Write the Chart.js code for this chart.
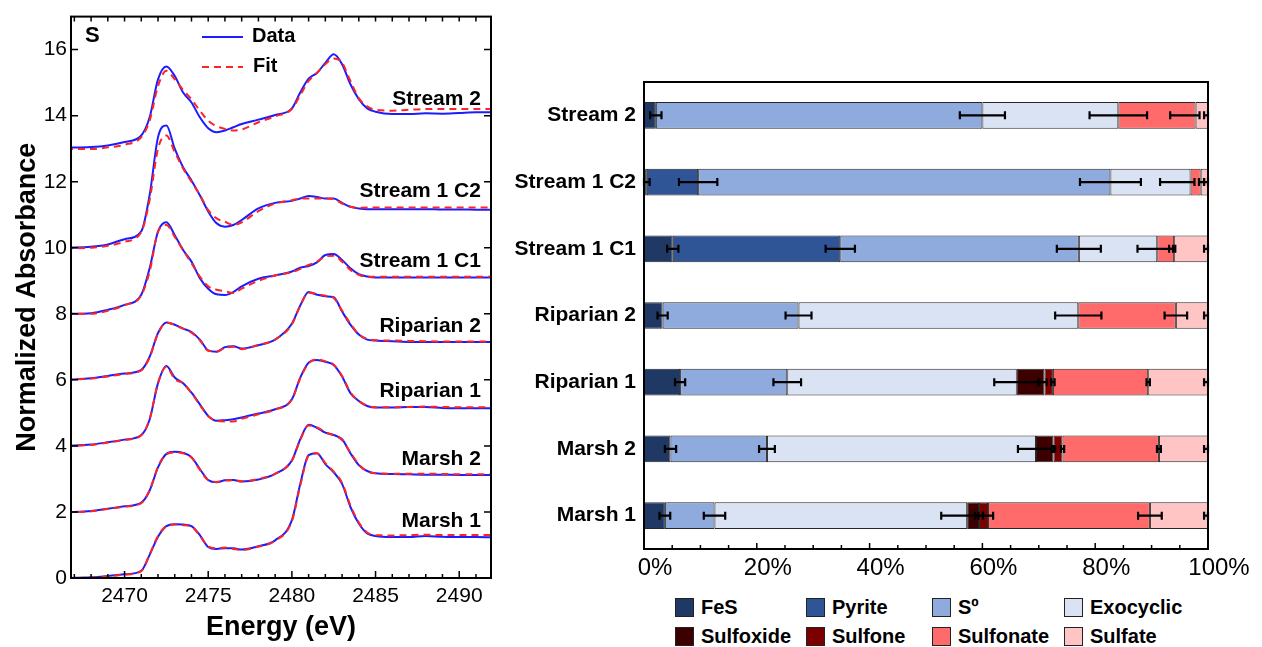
<!DOCTYPE html>
<html>
<head>
<meta charset="utf-8">
<script src="https://cdn.jsdelivr.net/npm/chart.js@4.4.1/dist/chart.umd.min.js"></script>
<style>
  html, body { margin: 0; padding: 0; background: #fff; }
  body { width: 1262px; height: 647px; position: relative; overflow: hidden;
         font-family: "Liberation Sans", Arial, sans-serif; }
  #specBox { position: absolute; left: 0; top: 0; width: 500px; height: 647px; }
  #barBox { position: absolute; left: 500px; top: 0; width: 762px; height: 592px; }
  .leg { position: absolute; height: 20px; line-height: 20px; display: flex; align-items: center;
         font-weight: bold; font-size: 20px; color: #000; white-space: nowrap; }
  .leg i { display: inline-block; width: 17px; height: 17px; border: 1px solid #222; margin-right: 7px; }
</style>
</head>
<body>
<div id="specBox"><canvas id="spec"></canvas></div>
<div id="barBox"><canvas id="bars"></canvas></div>
<div id="legend"></div>
<script>
// ---- XANES spectra (left panel) ----
const energy = [2466.5, 2468, 2469, 2470, 2471, 2471.5, 2472, 2472.5, 2473, 2473.5, 2474, 2474.5,
  2475, 2475.5, 2476, 2476.5, 2477, 2478, 2479, 2480, 2480.5, 2481, 2481.5, 2482, 2482.5,
  2483, 2483.5, 2484, 2484.5, 2485, 2486, 2487, 2488, 2489, 2490, 2491, 2492];

const stream2Data = [13.03, 13.05, 13.1, 13.2, 13.4, 13.95, 15.1, 15.49, 15.2, 14.7, 14.4, 13.95,
  13.62, 13.5, 13.55, 13.65, 13.75, 13.88, 14.02, 14.22, 14.7, 15.12, 15.29, 15.6, 15.86,
  15.56, 14.95, 14.5, 14.22, 14.12, 14.05, 14.05, 14.07, 14.06, 14.08, 14.1, 14.1];
const stream2Fit = [12.99, 12.99, 13.04, 13.12, 13.35, 13.85, 14.9, 15.36, 15.1, 14.78, 14.5, 14.15,
  13.85, 13.68, 13.6, 13.55, 13.58, 13.8, 13.98, 14.2, 14.62, 15.05, 15.3, 15.56, 15.73,
  15.6, 15.05, 14.53, 14.28, 14.18, 14.15, 14.18, 14.2, 14.2, 14.2, 14.2, 14.2];

const c2Data = [10.0, 10.03, 10.1, 10.26, 10.5, 11.6, 13.35, 13.7, 13.0, 12.44, 12.04, 11.59,
  11.1, 10.74, 10.64, 10.69, 10.84, 11.19, 11.36, 11.42, 11.49, 11.57, 11.54, 11.49, 11.49,
  11.36, 11.24, 11.19, 11.17, 11.17, 11.17, 11.17, 11.17, 11.16, 11.16, 11.15, 11.15];
const c2Fit = [9.98, 10.0, 10.06, 10.18, 10.48, 11.45, 13.0, 13.4, 12.9, 12.4, 12.0, 11.6,
  11.14, 10.89, 10.79, 10.69, 10.77, 11.11, 11.34, 11.44, 11.49, 11.49, 11.49, 11.49, 11.47,
  11.34, 11.24, 11.21, 11.22, 11.22, 11.22, 11.22, 11.22, 11.22, 11.22, 11.22, 11.22];

const c1Data = [8.0, 8.02, 8.12, 8.27, 8.58, 9.38, 10.49, 10.77, 10.38, 9.93, 9.58, 9.08,
  8.76, 8.59, 8.57, 8.66, 8.83, 9.06, 9.16, 9.28, 9.4, 9.45, 9.56, 9.78, 9.81,
  9.63, 9.38, 9.2, 9.13, 9.1, 9.1, 9.1, 9.1, 9.1, 9.1, 9.1, 9.1];
const c1Fit = [8.0, 8.0, 8.09, 8.26, 8.56, 9.28, 10.49, 10.69, 10.33, 9.93, 9.53, 9.13,
  8.83, 8.73, 8.68, 8.63, 8.76, 9.0, 9.16, 9.26, 9.36, 9.48, 9.58, 9.73, 9.76,
  9.58, 9.33, 9.18, 9.12, 9.12, 9.12, 9.12, 9.12, 9.12, 9.12, 9.12, 9.12];

const rip2Data = [6.0, 6.05, 6.12, 6.19, 6.3, 6.7, 7.42, 7.74, 7.67, 7.55, 7.45, 7.22,
  6.89, 6.85, 6.99, 7.02, 6.95, 7.05, 7.22, 7.7, 8.25, 8.66, 8.58, 8.53, 8.5,
  8.07, 7.67, 7.37, 7.22, 7.19, 7.17, 7.15, 7.15, 7.15, 7.15, 7.15, 7.15];
const rip2Fit = [6.0, 6.04, 6.1, 6.18, 6.29, 6.68, 7.4, 7.74, 7.66, 7.55, 7.43, 7.2,
  6.88, 6.86, 6.97, 7.0, 6.93, 7.06, 7.22, 7.68, 8.24, 8.64, 8.6, 8.55, 8.48,
  8.1, 7.7, 7.38, 7.24, 7.2, 7.19, 7.18, 7.17, 7.16, 7.16, 7.16, 7.16];

const rip1Data = [4.0, 4.04, 4.11, 4.19, 4.33, 4.8, 5.9, 6.42, 6.07, 5.9, 5.61, 5.26,
  4.91, 4.76, 4.78, 4.81, 4.86, 4.98, 5.11, 5.41, 6.07, 6.52, 6.6, 6.55, 6.45,
  6.1, 5.6, 5.36, 5.21, 5.16, 5.16, 5.18, 5.18, 5.15, 5.14, 5.14, 5.14];
const rip1Fit = [4.0, 4.03, 4.1, 4.18, 4.32, 4.82, 5.9, 6.4, 6.02, 5.9, 5.6, 5.24,
  4.9, 4.76, 4.74, 4.74, 4.82, 4.96, 5.1, 5.4, 6.05, 6.5, 6.62, 6.56, 6.46,
  6.12, 5.62, 5.36, 5.22, 5.17, 5.17, 5.18, 5.19, 5.18, 5.17, 5.17, 5.17];

const marsh2Data = [1.99, 2.03, 2.1, 2.17, 2.28, 2.65, 3.35, 3.76, 3.82, 3.79, 3.66, 3.3,
  2.97, 2.9, 2.96, 2.97, 2.92, 2.98, 3.15, 3.56, 4.2, 4.64, 4.55, 4.4, 4.33,
  4.2, 3.78, 3.42, 3.24, 3.17, 3.15, 3.14, 3.13, 3.13, 3.12, 3.12, 3.12];
const marsh2Fit = [1.99, 2.02, 2.09, 2.16, 2.27, 2.66, 3.37, 3.75, 3.8, 3.78, 3.65, 3.28,
  2.96, 2.91, 2.95, 2.96, 2.93, 3.0, 3.16, 3.55, 4.18, 4.62, 4.56, 4.42, 4.32,
  4.18, 3.8, 3.44, 3.23, 3.17, 3.16, 3.16, 3.16, 3.15, 3.14, 3.14, 3.14];

const marsh1Data = [0.0, 0.02, 0.06, 0.11, 0.22, 0.7, 1.25, 1.57, 1.63, 1.62, 1.57, 1.3,
  0.94, 0.88, 0.9, 0.9, 0.86, 0.96, 1.14, 1.75, 2.85, 3.72, 3.78, 3.45, 3.2,
  2.85, 2.15, 1.65, 1.35, 1.27, 1.24, 1.24, 1.27, 1.25, 1.24, 1.24, 1.23];
const marsh1Fit = [0.0, 0.01, 0.05, 0.1, 0.21, 0.72, 1.27, 1.57, 1.62, 1.6, 1.56, 1.28,
  0.95, 0.9, 0.92, 0.88, 0.85, 0.95, 1.13, 1.72, 2.8, 3.7, 3.78, 3.48, 3.22,
  2.88, 2.2, 1.68, 1.38, 1.3, 1.29, 1.3, 1.31, 1.3, 1.3, 1.3, 1.3];

const spectraNames = ['Stream 2', 'Stream 1 C2', 'Stream 1 C1', 'Riparian 2', 'Riparian 1', 'Marsh 2', 'Marsh 1'];
const spectraData = [stream2Data, c2Data, c1Data, rip2Data, rip1Data, marsh2Data, marsh1Data];
const spectraFit = [stream2Fit, c2Fit, c1Fit, rip2Fit, rip1Fit, marsh2Fit, marsh1Fit];
const spectraLabelLevel = [14.5, 11.7, 9.58, 7.62, 5.67, 3.61, 1.72];
const labelEnergy = 2491.3;

// ---- Speciation fractions, % (right panel) ----
const samples = ['Stream 2', 'Stream 1 C2', 'Stream 1 C1', 'Riparian 2', 'Riparian 1', 'Marsh 2', 'Marsh 1'];
const components = ['FeS', 'Pyrite', 'S\u00BA', 'Exocyclic', 'Sulfoxide', 'Sulfone', 'Sulfonate', 'Sulfate'];
const fes       = [2.1, 0.5, 5.1, 3.3, 6.4, 4.7, 3.7];
const pyrite    = [0, 9.1, 29.7, 0, 0, 0, 0];
const s0        = [57.9, 73.1, 42.3, 24.1, 19.0, 17.1, 8.8];
const exocyclic = [24.1, 14.2, 13.9, 49.6, 40.7, 47.7, 44.8];
const sulfoxide = [0, 0, 0, 0, 4.9, 3.1, 2.1];
const sulfone   = [0, 0, 0, 0, 1.5, 1.6, 1.6];
const sulfonate = [13.7, 1.8, 3.0, 17.3, 16.9, 17.1, 28.7];
const sulfate   = [2.2, 1.3, 6.0, 5.7, 10.6, 8.7, 10.3];

// error bars as [minus, plus], placed at the end of each segment
const errFeS       = [[1.0, 1.0], [0.5, 0.5], [1.0, 1.0], [0.9, 0.9], [0.9, 0.9], [1.0, 1.0], [0.95, 0.95]];
const errPyrite    = [null, [3.4, 3.4], [2.6, 2.6], null, null, null, null];
const errS0        = [[4.0, 4.0], [5.4, 5.4], [3.9, 3.9], [2.3, 2.3], [2.45, 2.45], [1.4, 1.4], [1.9, 1.9]];
const errExocyclic = [[5.1, 5.1], [5.4, 0.7], [3.5, 2.8], [4.1, 4.1], [4.0, 4.0], [3.2, 3.2], [4.6, 2.0]];
const errSulfoxide = [null, null, null, null, [1.1, 0.4], [0.3, 0.3], [0.7, 0.7]];
const errSulfone   = [null, null, null, null, [0.3, 0.3], [0.3, 0.3], [0.9, 0.9]];
const errSulfonate = [[4.5, 0.7], [0.3, 0.6], [0.9, 0.2], [2.0, 2.0], [0.3, 0.3], [0.35, 0.35], [2.1, 2.1]];
const errSulfate   = [[0.7, 0], [0.7, 0], [0.7, 0], [0.7, 0], [0.7, 0], [0.7, 0], [0.7, 0]];

const fractions = [fes, pyrite, s0, exocyclic, sulfoxide, sulfone, sulfonate, sulfate];
const errors = [errFeS, errPyrite, errS0, errExocyclic, errSulfoxide, errSulfone, errSulfonate, errSulfate];
const colors = ['#203864', '#2f5597', '#8faadc', '#dae3f3', '#3c0000', '#7c0000', '#ff6b6b', '#ffc5c5'];

const FONT = '"Liberation Sans", Arial, sans-serif';
Chart.defaults.font.family = FONT;
Chart.defaults.color = '#000';
Chart.defaults.animation = false;

// ---------- left panel ----------
const specSets = [];
spectraNames.forEach((name, i) => {
    specSets.push({
        label: name + ' fit',
        data: energy.map((e, k) => ({ x: e, y: spectraFit[i][k] })),
        borderColor: '#ff2424',
        borderDash: [7, 5],
        borderWidth: 2,
        pointRadius: 0,
        cubicInterpolationMode: 'monotone',
        order: 0
    });
    specSets.push({
        label: name + ' data',
        data: energy.map((e, k) => ({ x: e, y: spectraData[i][k] })),
        borderColor: '#1c1cff',
        borderWidth: 2,
        pointRadius: 0,
        cubicInterpolationMode: 'monotone',
        order: 1
    });
});

const specDecor = {
    id: 'specDecor',
    afterDraw(chart) {
        const { ctx, chartArea: a, scales: { x, y } } = chart;
        ctx.save();
        ctx.strokeStyle = '#000';
        ctx.lineWidth = 2;
        ctx.strokeRect(a.left, a.top, a.right - a.left, a.bottom - a.top);

        // inward ticks
        ctx.lineWidth = 1.5;
        ctx.beginPath();
        for (let e = 2467; e <= 2491; e++) {
            const px = x.getPixelForValue(e);
            const len = e % 5 === 0 ? 7 : 4;
            ctx.moveTo(px, a.bottom); ctx.lineTo(px, a.bottom - len);
            ctx.moveTo(px, a.top); ctx.lineTo(px, a.top + 5);
        }
        for (let v = 0; v <= 16; v += 2) {
            const py = y.getPixelForValue(v);
            ctx.moveTo(a.left, py); ctx.lineTo(a.left + 7, py);
            ctx.moveTo(a.right, py); ctx.lineTo(a.right - 7, py);
        }
        ctx.stroke();

        // sample labels
        ctx.fillStyle = '#000';
        ctx.font = `bold 21px ${FONT}`;
        ctx.textAlign = 'right';
        ctx.textBaseline = 'middle';
        spectraNames.forEach((name, i) => {
            ctx.fillText(name, x.getPixelForValue(labelEnergy), y.getPixelForValue(spectraLabelLevel[i]));
        });

        // panel letter
        ctx.textAlign = 'left';
        ctx.font = `bold 22px ${FONT}`;
        ctx.fillText('S', 85, 36);

        // legend
        ctx.font = `bold 20px ${FONT}`;
        ctx.lineWidth = 2;
        ctx.strokeStyle = '#1c1cff';
        ctx.beginPath(); ctx.moveTo(202, 37); ctx.lineTo(243, 37); ctx.stroke();
        ctx.strokeStyle = '#ff2424';
        ctx.setLineDash([7, 5]);
        ctx.beginPath(); ctx.moveTo(202, 67); ctx.lineTo(243, 67); ctx.stroke();
        ctx.setLineDash([]);
        ctx.fillText('Data', 252, 36);
        ctx.fillText('Fit', 253, 66);
        ctx.restore();
    }
};

new Chart(document.getElementById('spec'), {
    type: 'line',
    data: { datasets: specSets },
    options: {
        responsive: true,
        maintainAspectRatio: false,
        layout: { padding: { top: 14, right: 9, left: 0, bottom: 0 } },
        plugins: { legend: { display: false }, tooltip: { enabled: false } },
        scales: {
            x: {
                type: 'linear',
                min: 2466.8,
                max: 2491.9,
                ticks: {
                    stepSize: 5,
                    includeBounds: false,
                    padding: 6,
                    font: { size: 21 },
                    color: '#000',
                    callback: (v) => String(v)
                },
                grid: { display: false, drawTicks: false },
                border: { display: false },
                title: {
                    display: true,
                    text: 'Energy (eV)',
                    font: { size: 27, weight: 'bold' },
                    color: '#000',
                    padding: { top: 0, bottom: 3 }
                },
                afterFit: (s) => { s.height = 69; }
            },
            y: {
                min: 0,
                max: 17,
                ticks: {
                    stepSize: 2,
                    includeBounds: false,
                    padding: 4,
                    font: { size: 21 },
                    color: '#000'
                },
                grid: { display: false, drawTicks: false },
                border: { display: false },
                title: {
                    display: true,
                    text: 'Normalized Absorbance',
                    font: { size: 27, weight: 'bold' },
                    color: '#000',
                    padding: { top: 11, bottom: 0 }
                },
                afterFit: (s) => { s.width = 71; }
            }
        }
    },
    plugins: [specDecor]
});

// ---------- right panel ----------
const barSets = components.map((name, i) => ({
    label: name,
    data: fractions[i].map(v => (v === 0 ? null : v)),
    backgroundColor: colors[i],
    borderColor: '#262626',
    borderWidth: 1,
    borderSkipped: false,
    barPercentage: 0.4,
    categoryPercentage: 1
}));

const barDecor = {
    id: 'barDecor',
    afterDatasetsDraw(chart) {
        const { ctx, scales: { x, y } } = chart;
        ctx.save();
        ctx.strokeStyle = '#000';
        ctx.lineWidth = 2.2;
        samples.forEach((s, j) => {
            let cum = 0;
            const py = y.getPixelForValue(j);
            fractions.forEach((arr, i) => {
                cum += arr[j];
                const err = errors[i][j];
                if (!err || arr[j] === 0) return;
                const x1 = x.getPixelForValue(cum - err[0]);
                const x2 = x.getPixelForValue(cum + err[1]);
                ctx.beginPath();
                ctx.moveTo(x1, py); ctx.lineTo(x2, py);
                ctx.moveTo(x1, py - 4); ctx.lineTo(x1, py + 4);
                ctx.moveTo(x2, py - 4); ctx.lineTo(x2, py + 4);
                ctx.stroke();
            });
        });
        ctx.restore();
    },
    afterDraw(chart) {
        const { ctx, chartArea: a, scales: { x } } = chart;
        ctx.save();
        ctx.strokeStyle = '#000';
        ctx.lineWidth = 2;
        ctx.strokeRect(a.left, a.top, a.right - a.left, a.bottom - a.top);
        ctx.lineWidth = 1.5;
        ctx.beginPath();
        for (let v = 5; v < 100; v += 5) {
            const px = x.getPixelForValue(v);
            const len = v % 20 === 0 ? 6 : 4;
            ctx.moveTo(px, a.bottom); ctx.lineTo(px, a.bottom - len);
        }
        ctx.stroke();
        ctx.restore();
    }
};

new Chart(document.getElementById('bars'), {
    type: 'bar',
    data: { labels: samples, datasets: barSets },
    options: {
        indexAxis: 'y',
        responsive: true,
        maintainAspectRatio: false,
        layout: { padding: { top: 82, right: 54, left: 0, bottom: 0 } },
        plugins: { legend: { display: false }, tooltip: { enabled: false } },
        scales: {
            x: {
                stacked: true,
                min: 0,
                max: 100,
                ticks: {
                    stepSize: 20,
                    padding: 5,
                    labelOffset: 11,
                    font: { size: 24 },
                    color: '#000',
                    callback: (v) => v + '%'
                },
                grid: { display: false, drawTicks: false },
                border: { display: false },
                afterFit: (s) => { s.height = 43; }
            },
            y: {
                stacked: true,
                ticks: {
                    padding: 8,
                    font: { size: 21, weight: 'bold' },
                    color: '#000'
                },
                grid: { display: false, drawTicks: false },
                border: { display: false },
                afterFit: (s) => { s.width = 144; }
            }
        }
    },
    plugins: [barDecor]
});

// HTML legend, 4 columns x 2 rows
const legCols = [675, 806, 932, 1064];
const legRows = [597, 626];
const legend = document.getElementById('legend');
components.forEach((name, i) => {
    const d = document.createElement('div');
    d.className = 'leg';
    d.style.left = legCols[i % 4] + 'px';
    d.style.top = legRows[Math.floor(i / 4)] + 'px';
    d.innerHTML = `<i style="background:${colors[i]}"></i>${name}`;
    legend.appendChild(d);
});
</script>
</body>
</html>
